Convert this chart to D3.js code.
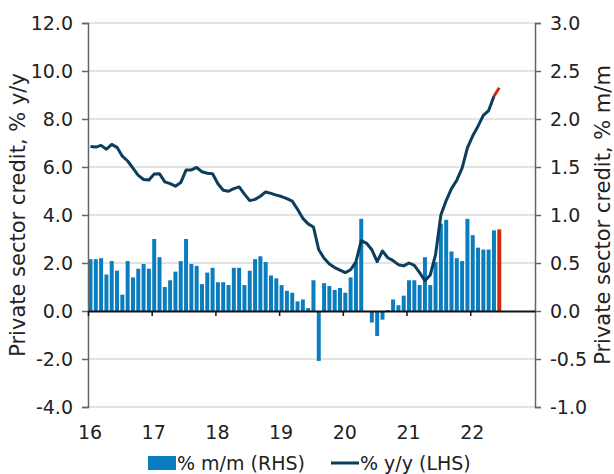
<!DOCTYPE html>
<html>
<head>
<meta charset="utf-8">
<script src="https://cdn.jsdelivr.net/npm/d3@7"></script>
<style>
  html, body { margin: 0; padding: 0; background: #fff; }
  svg { display: block; font-family: "DejaVu Sans", Verdana, sans-serif; }
</style>
</head>
<body>
<svg id="chart" width="614" height="474"></svg>
<script>
// --- DONNÉES ---
const years = ["16", "17", "18", "19", "20", "21", "22"];

// % m/m (RHS), monthly Jan 2016 - Jun 2022
const mom = [
  0.54, 0.54, 0.55, 0.38, 0.52, 0.42, 0.17, 0.52, 0.35, 0.44, 0.49, 0.44,
  0.75, 0.56, 0.25, 0.32, 0.41, 0.52, 0.75, 0.49, 0.47, 0.28, 0.40, 0.45,
  0.30, 0.30, 0.27, 0.45, 0.45, 0.27, 0.42, 0.54, 0.57, 0.51, 0.37, 0.34,
  0.27, 0.21, 0.19, 0.10, 0.12, 0.03, 0.32, -0.52, 0.29, 0.26, 0.22, 0.24,
  0.19, 0.35, 0.51, 0.96, 0.00, -0.12, -0.26, -0.09, 0.01, 0.12, 0.06, 0.16,
  0.32, 0.32, 0.27, 0.56, 0.27, 0.51, 0.91, 0.95, 0.62, 0.55, 0.52, 0.96,
  0.79, 0.66, 0.64, 0.64, 0.84, 0.85
];

// % y/y (LHS)
const yoy = [
  6.85, 6.83, 6.90, 6.74, 6.94, 6.82, 6.45, 6.25, 5.95, 5.65, 5.48, 5.46,
  5.71, 5.72, 5.38, 5.31, 5.20, 5.35, 5.87, 5.88, 5.98, 5.80, 5.74, 5.72,
  5.30, 5.03, 4.99, 5.10, 5.17, 4.87, 4.60, 4.65, 4.78, 4.96, 4.90, 4.83,
  4.77, 4.68, 4.58, 4.24, 3.86, 3.63, 3.50, 2.55, 2.20, 1.96, 1.81, 1.70,
  1.60, 1.72, 2.05, 2.93, 2.82, 2.55, 2.06, 2.50, 2.22, 2.10, 1.93, 1.88,
  2.00, 1.90, 1.60, 1.26, 1.50, 2.35, 4.00, 4.60, 5.10, 5.45, 5.95, 6.80,
  7.30, 7.70, 8.15, 8.35, 8.95, 9.30
];

const leftTicks = [-4, -2, 0, 2, 4, 6, 8, 10, 12];
const rightTicks = [-1, -0.5, 0, 0.5, 1, 1.5, 2, 2.5, 3];

const BLUE = "#0a7dbf", NAVY = "#0b3d5c", RED = "#d02a0c";

const svg = d3.select("#chart");
const m = { left: 88, right: 535, top: 23, bottom: 407 };

// months since Jan 2016
const x = d3.scaleLinear().domain([0, 84.2]).range([m.left, m.right]);
const yL = d3.scaleLinear().domain([-4, 12]).range([m.bottom, m.top]);
const yR = d3.scaleLinear().domain([-1, 3]).range([m.bottom, m.top]);
const bw = (x(1) - x(0)) * 0.75;

// grille
svg.append("g").selectAll("line").data(leftTicks.filter(d => d !== 0)).join("line")
  .attr("x1", m.left).attr("x2", m.right)
  .attr("y1", d => yL(d)).attr("y2", d => yL(d))
  .attr("stroke", "#e3e3e3").attr("stroke-width", 2);

// barres
svg.append("g").selectAll("rect").data(mom).join("rect")
  .attr("x", (d, i) => x(i) + 0.5)
  .attr("width", bw)
  .attr("y", d => yR(Math.max(0, d)))
  .attr("height", d => Math.abs(yR(d) - yR(0)))
  .attr("fill", (d, i) => i === mom.length - 1 ? RED : BLUE);

// ligne
const pts = yoy.map((v, i) => [x(i) + 0.5 + bw / 2, yL(v)]);
const line = d3.line();
svg.append("path").attr("d", line(pts.slice(0, pts.length - 1)))
  .attr("fill", "none").attr("stroke", NAVY).attr("stroke-width", 3)
  .attr("stroke-linejoin", "round");
svg.append("path").attr("d", line(pts.slice(pts.length - 2)))
  .attr("fill", "none").attr("stroke", RED).attr("stroke-width", 3);

// axes
const fmt = d => d.toFixed(1);
const axL = svg.append("g").attr("transform", `translate(${m.left},0)`)
  .call(d3.axisLeft(yL).tickValues(leftTicks).tickFormat(fmt).tickSize(6).tickPadding(9));
const axR = svg.append("g").attr("transform", `translate(${m.right},0)`)
  .call(d3.axisRight(yR).tickValues(rightTicks).tickFormat(fmt).tickSize(6).tickPadding(9));
[axL, axR].forEach(a => {
  a.select(".domain").attr("stroke", "#666").attr("stroke-width", 1.5);
  a.selectAll(".tick line").attr("stroke", "#666").attr("stroke-width", 1.5);
  a.selectAll("text").attr("font-size", 19).attr("fill", "#222")
    .attr("font-family", "DejaVu Sans, Verdana, sans-serif");
});

// axe x sur zéro
const axX = svg.append("g").attr("transform", `translate(0,${yL(0)})`)
  .call(d3.axisBottom(x).tickValues(d3.range(0, 73, 12)).tickFormat(() => "").tickSize(5).tickSizeOuter(0));
axX.select(".domain").attr("stroke", "#111").attr("stroke-width", 2);
axX.selectAll(".tick line").attr("stroke", "#111").attr("stroke-width", 1.5);

svg.append("g").selectAll("text").data(years).join("text")
  .attr("x", (d, i) => x(i * 12) + 2).attr("y", 439)
  .attr("text-anchor", "middle").attr("font-size", 19).attr("fill", "#222")
  .text(d => d);

// titres
svg.append("text").attr("transform", `translate(25,${(m.top + m.bottom) / 2}) rotate(-90)`)
  .attr("text-anchor", "middle").attr("font-size", 21).attr("fill", "#222")
  .text("Private sector credit, % y/y");
svg.append("text").attr("transform", `translate(610,${(m.top + m.bottom) / 2}) rotate(-90)`)
  .attr("text-anchor", "middle").attr("font-size", 21).attr("fill", "#222")
  .text("Private sector credit, % m/m");

// légende
const lg = svg.append("g");
lg.append("rect").attr("x", 148).attr("y", 456).attr("width", 28).attr("height", 14).attr("fill", BLUE);
lg.append("text").attr("x", 177).attr("y", 470).attr("font-size", 19).attr("fill", "#222").text("% m/m (RHS)");
lg.append("line").attr("x1", 331).attr("x2", 359).attr("y1", 463).attr("y2", 463)
  .attr("stroke", NAVY).attr("stroke-width", 3);
lg.append("text").attr("x", 360).attr("y", 470).attr("font-size", 19).attr("fill", "#222").text("% y/y (LHS)");
</script>
</body>
</html>
